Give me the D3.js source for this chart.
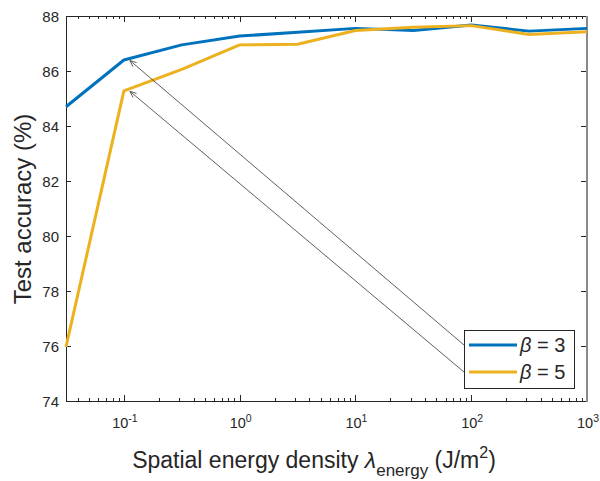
<!DOCTYPE html>
<html><head><meta charset="utf-8">
<script src="https://cdn.jsdelivr.net/npm/d3@7"></script>
<style>body{margin:0;background:#fff}svg{display:block}text{font-family:"Liberation Sans",Arial,Helvetica,sans-serif;fill:#262626}</style>
</head><body><svg id="c" width="600" height="481"></svg>
<script>
const lambdaValues = [0.03162, 0.1, 0.3162, 1, 3.162, 10, 31.62, 100, 316.2, 1000];
const beta3 = [84.70, 86.40, 86.95, 87.27, 87.41, 87.55, 87.47, 87.67, 87.45, 87.55];
const beta5 = [75.97, 85.28, 86.06, 86.95, 86.97, 87.47, 87.59, 87.65, 87.33, 87.43];
const seriesNames = ["3", "5"];
const seriesColors = ["#0072BD", "#EDB120"];
const yTicks = [74, 76, 78, 80, 82, 84, 86, 88];
const xMajorExp = [-1, 0, 1, 2, 3];

const svg = d3.select("#c");
const L = 66, R = 587, T = 16, B = 401;
const x = d3.scaleLog().domain([0.03162, 1000]).range([L, R]);
const y = d3.scaleLinear().domain([74, 88]).range([B, T]);
const axisCol = "#262626";

// minor ticks
const minor = [];
for (let e = -2; e <= 2; e++) for (let m = 2; m <= 9; m++) {
  const v = m * Math.pow(10, e);
  if (v > 0.03162 && v < 1000) minor.push(v);
}
const g = svg.append("g");
g.append("line").attr("x1", L).attr("x2", R).attr("y1", T + 0.5).attr("y2", T + 0.5).attr("stroke", axisCol);
g.append("line").attr("x1", L).attr("x2", R).attr("y1", B + 0.5).attr("y2", B + 0.5).attr("stroke", axisCol);
g.append("line").attr("x1", L + 0.5).attr("x2", L + 0.5).attr("y1", T).attr("y2", B + 1).attr("stroke", axisCol);
g.append("line").attr("x1", R).attr("x2", R).attr("y1", T).attr("y2", B + 1).attr("stroke", "#8a8a8a").attr("stroke-width", 2);

minor.forEach(v => {
  const px = Math.round(x(v)) + 0.5;
  g.append("line").attr("x1", px).attr("x2", px).attr("y1", B).attr("y2", B - 3).attr("stroke", axisCol);
  g.append("line").attr("x1", px).attr("x2", px).attr("y1", T).attr("y2", T + 3).attr("stroke", axisCol);
});
xMajorExp.forEach(e => {
  const v = Math.pow(10, e);
  const px = Math.round(x(v)) + 0.5;
  if (e < 3) {
    g.append("line").attr("x1", px).attr("x2", px).attr("y1", B).attr("y2", B - 6).attr("stroke", axisCol);
    g.append("line").attr("x1", px).attr("x2", px).attr("y1", T).attr("y2", T + 6).attr("stroke", axisCol);
  }
  const t = g.append("text").attr("x", x(v) + 1).attr("y", 428).attr("text-anchor", "middle").style("font-size", "14.5px");
  t.append("tspan").text("10");
  t.append("tspan").attr("dy", -6).style("font-size", "10.5px").text(String(e));
});
yTicks.forEach(v => {
  const py = Math.round(y(v)) + 0.5;
  g.append("line").attr("x1", L).attr("x2", L + 5).attr("y1", py).attr("y2", py).attr("stroke", axisCol);
  g.append("line").attr("x1", R - 1).attr("x2", R - 6).attr("y1", py).attr("y2", py).attr("stroke", axisCol);
  g.append("text").attr("x", 59).attr("y", y(v) + 5.5).attr("text-anchor", "end").style("font-size", "15px").text(v);
});

// lines
const line = d3.line().x((d, i) => x(lambdaValues[i])).y(d => y(d));
[beta3, beta5].forEach((s, i) => {
  svg.append("path").attr("d", line(s)).attr("fill", "none").attr("stroke", seriesColors[i]).attr("stroke-width", 3).attr("stroke-linejoin", "round");
});

// legend
const lg = svg.append("g");
lg.append("rect").attr("x", 464.5).attr("y", 330.5).attr("width", 110).attr("height", 58).attr("fill", "#fff").attr("stroke", axisCol);
const legY = [345, 372];
seriesNames.forEach((n, i) => {
  lg.append("line").attr("x1", 469).attr("x2", 517).attr("y1", legY[i]).attr("y2", legY[i]).attr("stroke", seriesColors[i]).attr("stroke-width", 3);
  const t = lg.append("text").attr("x", 520).attr("y", legY[i] + 7).style("font-size", "20px");
  t.append("tspan").style("font-style", "italic").text("β");
  t.append("tspan").text(" = " + n);
});

// annotation arrows from legend to the points at λ = 0.1
const arrowTargets = [beta3[1], beta5[1]];
arrowTargets.forEach((v, i) => {
  const x0 = 464, y0 = legY[i];
  const x1 = x(0.1) + 6, y1 = y(v) + 0.5;
  svg.append("line").attr("x1", x0).attr("y1", y0).attr("x2", x1).attr("y2", y1).attr("stroke", "#4d4d4d").attr("stroke-width", 0.9);
  const ang = Math.atan2(y0 - y1, x0 - x1);
  const len = 7, spread = 0.4;
  const p = [
    [x1 + len * Math.cos(ang + spread), y1 + len * Math.sin(ang + spread)],
    [x1, y1],
    [x1 + len * Math.cos(ang - spread), y1 + len * Math.sin(ang - spread)]
  ];
  svg.append("path").attr("d", d3.line()(p)).attr("fill", "none").attr("stroke", "#4d4d4d").attr("stroke-width", 0.9);
});

// axis titles
const xt = svg.append("text").attr("x", 314).attr("y", 468).attr("text-anchor", "middle").style("font-size", "23px");
xt.append("tspan").text("Spatial energy density ");
xt.append("tspan").style("font-style", "italic").text("λ");
xt.append("tspan").attr("dy", 8).style("font-size", "17px").text("energy");
xt.append("tspan").attr("dy", -8).text(" (J/m");
xt.append("tspan").attr("dy", -10).style("font-size", "16px").text("2");
xt.append("tspan").attr("dy", 10).text(")");

svg.append("text").attr("transform", "translate(31,209) rotate(-90)").attr("text-anchor", "middle").style("font-size", "24px").text("Test accuracy (%)");
</script></body></html>
